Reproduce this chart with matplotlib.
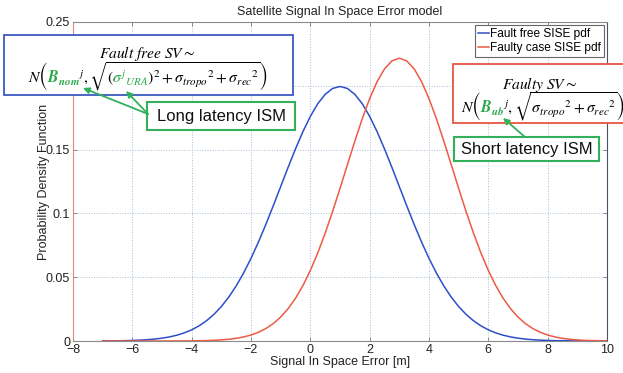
import matplotlib
matplotlib.use('Agg')
import matplotlib.pyplot as plt
from matplotlib.patches import Rectangle, FancyArrowPatch
from matplotlib.transforms import Bbox
from matplotlib.mathtext import MathTextParser
from matplotlib.font_manager import FontProperties

plt.rcParams['font.family'] = ['Liberation Sans', 'DejaVu Sans']

# ---------------- data ----------------
x_err = [-7.0, -6.75, -6.5, -6.25, -6.0, -5.75, -5.5, -5.25, -5.0, -4.75, -4.5, -4.25,
         -4.0, -3.75, -3.5, -3.25, -3.0, -2.75, -2.5, -2.25, -2.0, -1.75, -1.5, -1.25,
         -1.0, -0.75, -0.5, -0.25, 0.0, 0.25, 0.5, 0.75, 1.0, 1.25, 1.5, 1.75,
         2.0, 2.25, 2.5, 2.75, 3.0, 3.25, 3.5, 3.75, 4.0, 4.25, 4.5, 4.75,
         5.0, 5.25, 5.5, 5.75, 6.0, 6.25, 6.5, 6.75, 7.0, 7.25, 7.5, 7.75,
         8.0, 8.25, 8.5, 8.75, 9.0, 9.25, 9.5, 9.75, 10.0]
fault_free_pdf = [0.00007, 0.00011, 0.00018, 0.00028, 0.00044, 0.00067, 0.00101, 0.00151,
                  0.00222, 0.00320, 0.00455, 0.00636, 0.00876, 0.01189, 0.01587, 0.02086,
                  0.02700, 0.03439, 0.04314, 0.05327, 0.06476, 0.07751, 0.09132, 0.10594,
                  0.12099, 0.13603, 0.15057, 0.16408, 0.17603, 0.18593, 0.19333, 0.19792,
                  0.19947, 0.19792, 0.19333, 0.18593, 0.17603, 0.16408, 0.15057, 0.13603,
                  0.12099, 0.10594, 0.09132, 0.07751, 0.06476, 0.05327, 0.04314, 0.03439,
                  0.02700, 0.02086, 0.01587, 0.01189, 0.00876, 0.00636, 0.00455, 0.00320,
                  0.00222, 0.00151, 0.00101, 0.00067, 0.00044, 0.00028, 0.00018, 0.00011,
                  0.00007, 0.00004, 0.00002, 0.00001, 0.00001]
faulty_pdf = [0.0, 0.0, 0.0, 0.0, 0.0, 0.0, 0.0, 0.0,
              0.00001, 0.00002, 0.00004, 0.00007, 0.00012, 0.00020, 0.00033, 0.00053,
              0.00086, 0.00135, 0.00208, 0.00315, 0.00468, 0.00682, 0.00974, 0.01365,
              0.01876, 0.02530, 0.03347, 0.04342, 0.05527, 0.06899, 0.08448, 0.10147,
              0.11955, 0.13817, 0.15662, 0.17416, 0.18995, 0.20321, 0.21325, 0.21951,
              0.22164, 0.21951, 0.21325, 0.20321, 0.18995, 0.17416, 0.15662, 0.13817,
              0.11955, 0.10147, 0.08448, 0.06899, 0.05527, 0.04342, 0.03347, 0.02530,
              0.01876, 0.01365, 0.00974, 0.00682, 0.00468, 0.00315, 0.00208, 0.00135,
              0.00086, 0.00053, 0.00033, 0.00020, 0.00012]
x_ticks = [-8, -6, -4, -2, 0, 2, 4, 6, 8, 10]
y_ticks = [0, 0.05, 0.1, 0.15, 0.2, 0.25]
y_ticklabels = ['0', '0.05', '0.1', '0.15', '0.2', '0.25']
series_labels = ['Fault free SISE pdf', 'Faulty case SISE pdf']
title = 'Satellite Signal In Space Error model'
x_label = 'Signal In Space Error [m]'
y_label = 'Probability Density Function'
ff_line1 = r'$Fault\ free\ SV\sim$'
ff_line2 = (r'$N\left(\mathbfit{B}_{\mathbfit{nom}}{}^{j},\sqrt{(\sigma^{j}{}_{URA})^{2}'
            r'+\sigma_{tropo}{}^{2}+\sigma_{rec}{}^{2}\genfrac{}{}{0}{0}{|}{|}}\right)$')
fc_line1 = r'$Faulty\ SV\sim$'
fc_line2 = (r'$N\left(\mathbfit{B}_{\mathbfit{ub}}{}^{j},\sqrt{\sigma_{tropo}{}^{2}'
            r'+\sigma_{rec}{}^{2}\genfrac{}{}{0}{0}{|}{|}}\right)$')
long_ism = 'Long latency ISM'
short_ism = 'Short latency ISM'

# ---------------- styles ----------------
W, H = 623, 373
DPI = 100
BLUE = '#2d4fc8'
RED = '#ee5a45'
GREEN_TXT = '#2aa84a'
GREEN_BOX = '#33b05a'
GRID = '#a8bdd4'

fig = plt.figure(figsize=(W / DPI, H / DPI), dpi=DPI)
ax = fig.add_axes([73 / W, 1 - 341 / H, (607 - 73) / W, (341 - 22) / H])

ax.plot(x_err, fault_free_pdf, color=BLUE, lw=1.1, label=series_labels[0], zorder=3)
ax.plot(x_err, faulty_pdf, color=RED, lw=1.1, label=series_labels[1], zorder=4)

ax.set_xlim(-8, 10)
ax.set_ylim(0, 0.25)
ax.set_xticks(x_ticks)
ax.set_yticks(y_ticks)
ax.set_yticklabels(y_ticklabels)
ax.tick_params(direction='in', top=True, right=True, length=3, width=0.6,
               color='#777777', labelsize=9, labelcolor='#222222', pad=2)
ax.grid(True, linestyle=':', color=GRID, linewidth=0.7)
for side, c in [('top', '#8a8a8a'), ('bottom', '#8a8a8a'), ('right', '#505068'), ('left', '#e08a7a')]:
    ax.spines[side].set_color(c)
    ax.spines[side].set_linewidth(0.8)

ax.set_title(title, fontsize=9, pad=5, color='#222222')
ax.set_xlabel(x_label, fontsize=9, labelpad=0, color='#222222')
ax.set_ylabel(y_label, fontsize=9, labelpad=-3, color='#222222')

leg = ax.legend(loc='upper right', fontsize=8.6, fancybox=False, framealpha=1,
                edgecolor='#666666', handlelength=0.9, handletextpad=0.1,
                borderpad=0.25, labelspacing=0.2, borderaxespad=0.25)
leg.get_frame().set_linewidth(0.8)


def fx(px):
    return px / W


def fy(py):
    return 1 - py / H


def box(x0, y0, x1, y1, ec, lw=1.3):
    r = Rectangle((fx(x0), fy(y1)), (x1 - x0) / W, (y1 - y0) / H,
                  transform=fig.transFigure, facecolor='white', edgecolor=ec,
                  lw=lw, zorder=5)
    fig.add_artist(r)


parser = MathTextParser('path')


def colored_math(s, x_px, baseline_py, size, green_ranges, align='center'):
    """Draw a formula; glyph ranges in green_ranges are coloured green.
    The trailing \\genfrac strut only sizes the radical and parentheses and is clipped away."""
    prop = FontProperties(size=size, math_fontfamily='stix')
    vp = parser.parse(s, dpi=DPI, prop=prop)
    ox = [g[3] for g in vp.glyphs]
    over_y = vp.rects[0][1]
    hide_a = ox[-3] - 0.3
    hide_b = ox[-1] - 0.3
    shown = vp.width - (hide_b - hide_a)
    x0 = x_px - shown / 2 if align == 'center' else x_px
    yb = H - baseline_py
    lo, hi = yb - 40, yb + 60
    regions = []
    cur = -20
    for i0, i1 in green_ranges:
        a, b = ox[i0] - 0.8, ox[i1] - 0.3
        regions.append((cur, lo, a, hi, 'black'))
        regions.append((a, yb + over_y - 0.3, b, hi, 'black'))
        regions.append((a, lo, b, yb + over_y - 0.3, GREEN_TXT))
        cur = b
    regions.append((cur, lo, hide_a, hi, 'black'))
    for (a, ya, b, yb2, col) in regions:
        t = fig.text(fx(x0), yb / H, s, ha='left', va='baseline', fontsize=size,
                     math_fontfamily='stix', color=col, zorder=6)
        t.set_clip_box(Bbox.from_extents(x0 + a, ya, x0 + b, yb2))
        t.set_clip_on(True)
    # closing parenthesis moved left onto the end of the radical
    shift = hide_b - hide_a
    t = fig.text(fx(x0 - shift), yb / H, s, ha='left', va='baseline', fontsize=size,
                 math_fontfamily='stix', color='black', zorder=6)
    t.set_clip_box(Bbox.from_extents(x0 - shift + hide_b, lo, x0 - shift + vp.width + 30, hi))
    t.set_clip_on(True)


def arrow(p0, p1):
    a = FancyArrowPatch((fx(p0[0]), fy(p0[1])), (fx(p1[0]), fy(p1[1])),
                        transform=fig.transFigure, arrowstyle='-|>', mutation_scale=9,
                        color=GREEN_BOX, lw=1.3, shrinkA=0, shrinkB=0, zorder=8)
    fig.add_artist(a)


# fault-free annotation
box(4, 35, 293, 95, '#3a58c0')
fig.text(fx(147), fy(58), ff_line1, ha='center', va='baseline', fontsize=11.2,
         math_fontfamily='stix', zorder=6)
colored_math(ff_line2, 149, 83, 11.3, [(2, 6), (10, 15)])

# faulty annotation
box(453, 64, 640, 123, '#e8553f')
fig.text(fx(540), fy(89), fc_line1, ha='center', va='baseline', fontsize=11.2,
         math_fontfamily='stix', zorder=6)
colored_math(fc_line2, 461, 113, 11.3, [(2, 5)], align='left')

# ISM boxes
box(147, 102, 295, 130, GREEN_BOX, lw=1.5)
fig.text(fx(221), fy(116.5), long_ism, ha='center', va='center', fontsize=12,
         color='#111111', zorder=7)
box(454, 137, 599, 161, GREEN_BOX, lw=1.5)
fig.text(fx(526.5), fy(149.5), short_ism, ha='center', va='center', fontsize=12,
         color='#111111', zorder=7)

arrow((148, 114), (83, 88))
arrow((148, 114), (126, 91))
arrow((525, 137), (503, 118))

fig.savefig('out.png', dpi=DPI)
